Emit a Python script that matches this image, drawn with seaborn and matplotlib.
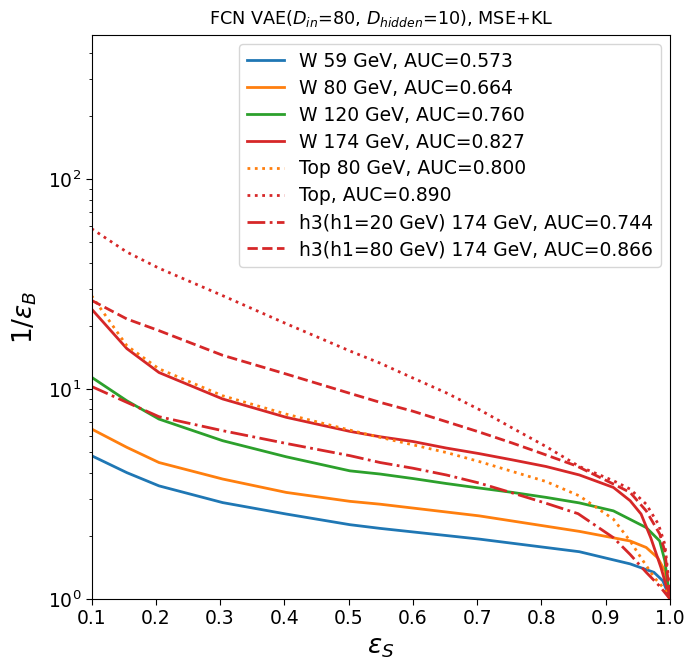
import matplotlib
matplotlib.use("Agg")
import matplotlib.pyplot as plt
import seaborn as sns

# ---- data ----
w59_x = [0.1, 0.155, 0.205, 0.304, 0.403, 0.502, 0.549, 0.703, 0.859, 0.938, 0.975, 0.989, 1.0]
w59_y = [4.82, 4.0, 3.46, 2.88, 2.54, 2.26, 2.17, 1.93, 1.68, 1.47, 1.34, 1.22, 1.0]

w80_x = [0.1, 0.155, 0.205, 0.304, 0.403, 0.502, 0.549, 0.703, 0.859, 0.938, 0.963, 0.981, 0.992, 1.0]
w80_y = [6.46, 5.28, 4.47, 3.73, 3.22, 2.92, 2.83, 2.49, 2.1, 1.89, 1.76, 1.57, 1.36, 1.0]

w120_x = [0.1, 0.155, 0.205, 0.304, 0.403, 0.502, 0.549, 0.6, 0.652, 0.703, 0.755, 0.807, 0.859,
          0.912, 0.963, 0.984, 0.992, 0.996, 1.0]
w120_y = [11.4, 8.8, 7.2, 5.68, 4.76, 4.08, 3.94, 3.75, 3.55, 3.38, 3.22, 3.05, 2.87,
          2.63, 2.19, 1.89, 1.52, 1.22, 1.0]

w174_x = [0.1, 0.155, 0.205, 0.304, 0.403, 0.502, 0.549, 0.6, 0.652, 0.703, 0.755, 0.807, 0.859,
          0.912, 0.938, 0.955, 0.97, 0.986, 1.0]
w174_y = [24.1, 15.6, 12.0, 8.98, 7.34, 6.29, 5.93, 5.63, 5.24, 4.93, 4.6, 4.28, 3.9,
          3.4, 2.94, 2.54, 1.96, 1.41, 1.0]

top80_x = [0.1, 0.155, 0.205, 0.304, 0.403, 0.502, 0.549, 0.6, 0.652, 0.703, 0.755, 0.807, 0.859,
           0.912, 0.938, 0.955, 0.976, 0.992, 1.0]
top80_y = [27.9, 16.1, 12.5, 9.3, 7.6, 6.38, 5.89, 5.43, 4.99, 4.52, 4.05, 3.63, 3.1,
           2.4, 1.89, 1.57, 1.26, 1.11, 1.0]

top_x = [0.1, 0.155, 0.205, 0.304, 0.403, 0.502, 0.549, 0.6, 0.652, 0.703, 0.755, 0.807, 0.859,
         0.912, 0.938, 0.963, 0.982, 0.992, 0.997, 1.0]
top_y = [58.2, 45.0, 37.7, 27.9, 20.5, 15.2, 13.3, 11.3, 9.6, 8.0, 6.52, 5.33, 4.28,
         3.66, 3.34, 2.83, 2.27, 1.82, 1.31, 1.0]

h20_x = [0.1, 0.155, 0.205, 0.304, 0.403, 0.502, 0.549, 0.6, 0.652, 0.703, 0.755, 0.807, 0.857,
         0.912, 0.938, 0.963, 0.984, 1.0]
h20_y = [10.3, 8.65, 7.39, 6.34, 5.51, 4.82, 4.47, 4.2, 3.9, 3.57, 3.2, 2.86, 2.55,
         1.96, 1.63, 1.34, 1.15, 1.0]

h80_x = [0.1, 0.155, 0.205, 0.304, 0.403, 0.502, 0.549, 0.6, 0.652, 0.703, 0.755, 0.807, 0.855,
         0.912, 0.938, 0.963, 0.984, 0.992, 0.997, 1.0]
h80_y = [26.5, 21.6, 19.0, 14.5, 11.8, 9.55, 8.65, 7.85, 7.0, 6.25, 5.53, 4.86, 4.3,
         3.53, 3.22, 2.63, 2.04, 1.69, 1.22, 1.0]

labels = [
    "W 59 GeV, AUC=0.573",
    "W 80 GeV, AUC=0.664",
    "W 120 GeV, AUC=0.760",
    "W 174 GeV, AUC=0.827",
    "Top 80 GeV, AUC=0.800",
    "Top, AUC=0.890",
    "h3(h1=20 GeV) 174 GeV, AUC=0.744",
    "h3(h1=80 GeV) 174 GeV, AUC=0.866",
]
xticks = [0.1, 0.2, 0.3, 0.4, 0.5, 0.6, 0.7, 0.8, 0.9, 1.0]

# ---- styling ----
blue, orange, green, red = "#1f77b4", "#ff7f0e", "#2ca02c", "#d62728"
series = [
    (w59_x, w59_y, blue, "-"),
    (w80_x, w80_y, orange, "-"),
    (w120_x, w120_y, green, "-"),
    (w174_x, w174_y, red, "-"),
    (top80_x, top80_y, orange, ":"),
    (top_x, top_y, red, ":"),
    (h20_x, h20_y, red, "-."),
    (h80_x, h80_y, red, "--"),
]

plt.rcParams["font.family"] = ["DejaVu Sans"]
plt.rcParams["xtick.direction"] = "out"
plt.rcParams["ytick.direction"] = "out"

fig = plt.figure(figsize=(6.87, 6.63), dpi=100)
ax = fig.add_axes([91.5 / 687, 1 - 599 / 663, (670 - 91.5) / 687, (599 - 35) / 663])

for (xs, ys, c, ls), lab in zip(series, labels):
    sns.lineplot(x=xs, y=ys, color=c, linestyle=ls, linewidth=2, label=lab, ax=ax)

ax.set_yscale("log")
ax.set_xlim(0.1, 1.0)
ax.set_ylim(1, 487)
ax.set_xticks(xticks)
ax.set_xticklabels([f"{t:.1f}" for t in xticks])
ax.tick_params(axis="both", which="major", labelsize=13.5, length=4)
ax.tick_params(axis="y", which="minor", length=2.5)

ax.set_title(r"FCN VAE($D_{in}$=80, $D_{hidden}$=10), MSE+KL", fontsize=12.7, pad=8)
ax.set_xlabel(r"$\epsilon_S$", fontsize=19)
ax.set_ylabel(r"1/$\epsilon_B$", fontsize=19, labelpad=6)

leg = ax.legend(loc="upper right", fontsize=13.5, handlelength=2.0,
                labelspacing=0.42, frameon=True)

fig.savefig("out.png", dpi=100)
